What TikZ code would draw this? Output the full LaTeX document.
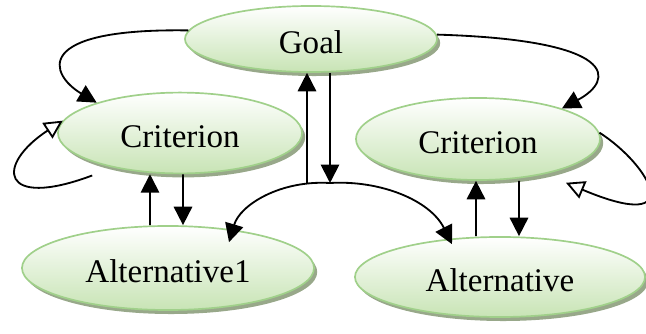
\documentclass[tikz,border=0pt]{standalone}
\usepackage{fontspec}
\setmainfont{Liberation Serif}
\usepackage{tikz}
\usetikzlibrary{shapes.geometric, shadows, arrows.meta}

\definecolor{ellborder}{RGB}{160,208,138}
\definecolor{ellfill}{RGB}{200,228,181}
\definecolor{ellshadow}{RGB}{152,168,138}

\tikzset{
    ell/.style={ellipse, draw=ellborder, line width=1.2pt, inner sep=0pt,
        top color=white, bottom color=ellfill, text height=0.72cm,
        drop shadow={shadow xshift=0.08cm, shadow yshift=-0.1cm, fill=ellshadow, opacity=1},
        font=\fontsize{23.5}{27}\selectfont},
    arr/.style={line width=1.3pt, -{Triangle[length=4.6mm, width=4.6mm]}},
    loop/.style={line width=1.3pt, -{Triangle[open, length=4.6mm, width=4.6mm]}}
}

\begin{document}
\begin{tikzpicture}[x=0.025cm, y=-0.025cm]
    \clip (0,0) rectangle (646,334);

    \node [ell, minimum width=6.3cm, minimum height=1.65cm] (goal) at (311,39) {Goal};
    \node [ell, minimum width=6.1cm, minimum height=2.02cm] (critL) at (180,133) {Criterion};
    \node [ell, minimum width=6.1cm, minimum height=2.05cm] (critR) at (478,139) {Criterion};
    \node [ell, minimum width=7.3cm, minimum height=2.1cm] (altL) at (168,268) {Alternative1};
    \node [ell, minimum width=7.25cm, minimum height=2.0cm] (altR) at (500,277) {Alternative};

    \coordinate (fork) at (330,183);
    \coordinate (rise) at (307,183);

    % goal to criteria
    \draw [arr] (goal.176) .. controls (30,28) and (50,75) .. (critL.160);
    \draw [arr] (goal.2) .. controls (620,40) and (615,80) .. (critR.20);

    % self loops
    \draw [loop] ([xshift=-0.4cm, yshift=-0.225cm]critL.205) .. controls (0,210) and (-5,165) .. (critL.174);
    \draw [loop] (critR.3) .. controls (650,165) and (690,235) .. ([xshift=0.1cm, yshift=-0.33cm]critR.-20);

    % goal and alternatives
    \draw [arr] (rise) -- (rise |- goal.south);
    \draw [arr] (fork |- goal.south) -- (fork);
    \draw [arr] (fork) .. controls (280,180) and (240,205) .. ([xshift=1.525cm, yshift=-0.425cm]altL.north);
    \draw [arr] (fork) .. controls (380,180) and (430,200) .. ([xshift=-1.2cm, yshift=-0.2cm]altR.north);

    % criteria and alternatives
    \draw [arr] ([xshift=-0.45cm]altL.north) -- ([xshift=-0.75cm]critL.south);
    \draw [arr] ([xshift=0.075cm]critL.south) -- ([xshift=0.375cm]altL.north);
    \draw [arr] ([xshift=-0.6cm]altR.north) -- ([xshift=-0.05cm]critR.south);
    \draw [arr] ([xshift=1.025cm]critR.south) -- ([xshift=0.475cm]altR.north);
\end{tikzpicture}
\end{document}
